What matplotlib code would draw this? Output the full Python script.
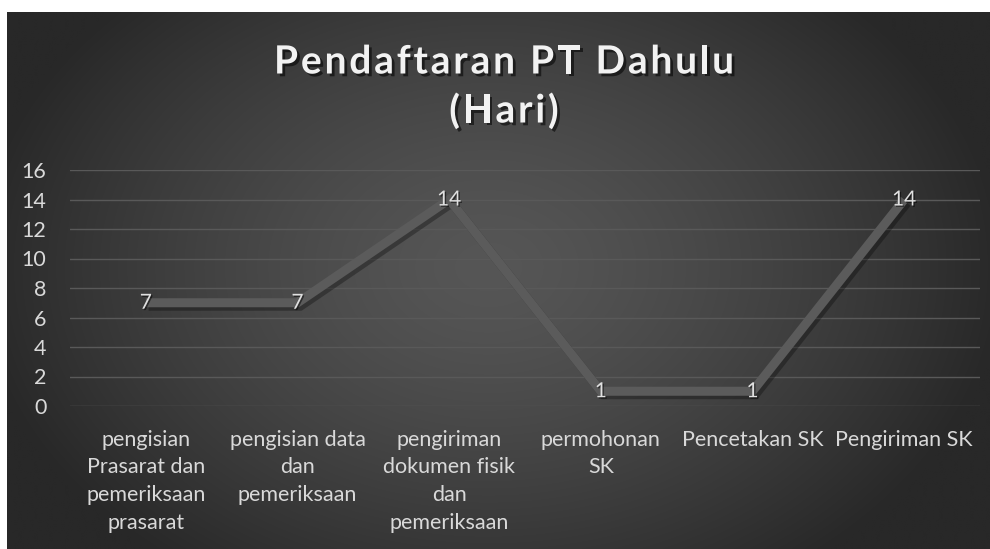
import numpy as np
import matplotlib
matplotlib.use("Agg")
import matplotlib.pyplot as plt
import matplotlib.patheffects as pe

# data
categories = [
    "pengisian\nPrasarat dan\npemeriksaan\nprasarat",
    "pengisian data\ndan\npemeriksaan",
    "pengiriman\ndokumen fisik\ndan\npemeriksaan",
    "permohonan\nSK",
    "Pencetakan SK",
    "Pengiriman SK",
]
days = [7, 7, 14, 1, 1, 14]
title_lines = ["Pendaftaran PT Dahulu", "(Hari)"]
y_ticks = [0, 2, 4, 6, 8, 10, 12, 14, 16]

plt.rcParams['font.family'] = ['Lato', 'DejaVu Sans']

W, H = 990, 549
fig = plt.figure(figsize=(W / 100, H / 100), dpi=100)
fig.patch.set_facecolor("white")

# radial gradient background (Excel dark style)
bg = fig.add_axes([7 / W, 0, (W - 7) / W, (H - 12) / H])
bg.set_axis_off()
gx, gy = np.meshgrid(np.linspace(-1, 1, 600), np.linspace(-1, 1, 340))
r = np.sqrt(((gx + 0.02) / 1.05) ** 2 + ((gy + 0.05) / 1.4) ** 2)
val = np.clip(86 - 46 * r ** 1.4, 40, 90) / 255.0
img = np.dstack([val, val, val])
bg.imshow(img, aspect="auto", extent=[0, 1, 0, 1], interpolation="bilinear")

ax = fig.add_axes([70 / W, (H - 406) / H, 910 / W, 236 / H])
ax.set_facecolor("none")
x = np.arange(len(categories))
ax.plot(x, days, color="#5b5b5b", lw=6.5, solid_joinstyle="miter",
        solid_capstyle="butt", zorder=3,
        path_effects=[pe.SimpleLineShadow(offset=(2, -2.5), shadow_color="black", alpha=0.3),
                      pe.Normal()])

for xi, v in zip(x, days):
    ax.text(xi, v, str(v), ha="center", va="center", color="#e0e0e0",
            fontsize=15, zorder=4,
            path_effects=[pe.withSimplePatchShadow(offset=(1, -1), shadow_rgbFace="black", alpha=0.5)])

ax.set_xlim(-0.5, len(categories) - 0.5)
ax.set_ylim(0, 16)
ax.set_yticks(y_ticks)
ax.set_xticks(x)
ax.set_xticklabels(categories, linespacing=1.48)
ax.tick_params(axis="both", length=0, colors="#d9d9d9", labelsize=15.5)
ax.tick_params(axis="y", pad=17)
ax.tick_params(axis="x", pad=17)
for lab in ax.get_yticklabels() + ax.get_xticklabels():
    lab.set_color("#d9d9d9")
ax.grid(axis="y", color="#595959", lw=1)
ax.set_axisbelow(True)
for s in ax.spines.values():
    s.set_visible(False)

# title with letter spacing, drawn character by character
renderer = fig.canvas.get_renderer()
title_kw = dict(color="#f2f2f2", fontsize=28, fontweight="bold", va="center", ha="left",
                path_effects=[pe.withSimplePatchShadow(offset=(2, -2), shadow_rgbFace="black", alpha=0.55)])
spacing = 2.8
for line, ypix in zip(title_lines, [62, 111]):
    widths = []
    for ch in line:
        t = fig.text(0, 0, ch if ch != " " else "a a", **title_kw)
        w = t.get_window_extent(renderer).width
        if ch == " ":
            t2 = fig.text(0, 0, "aa", **title_kw)
            w = w - t2.get_window_extent(renderer).width
            t2.remove()
        t.remove()
        widths.append(w)
    total = sum(widths) + spacing * (len(line) - 1)
    xpix = 504 - total / 2
    for ch, w in zip(line, widths):
        if ch != " ":
            fig.text(xpix / W, (H - ypix) / H, ch, **title_kw)
        xpix += w + spacing

fig.savefig("out.png", dpi=100, facecolor=fig.get_facecolor())
